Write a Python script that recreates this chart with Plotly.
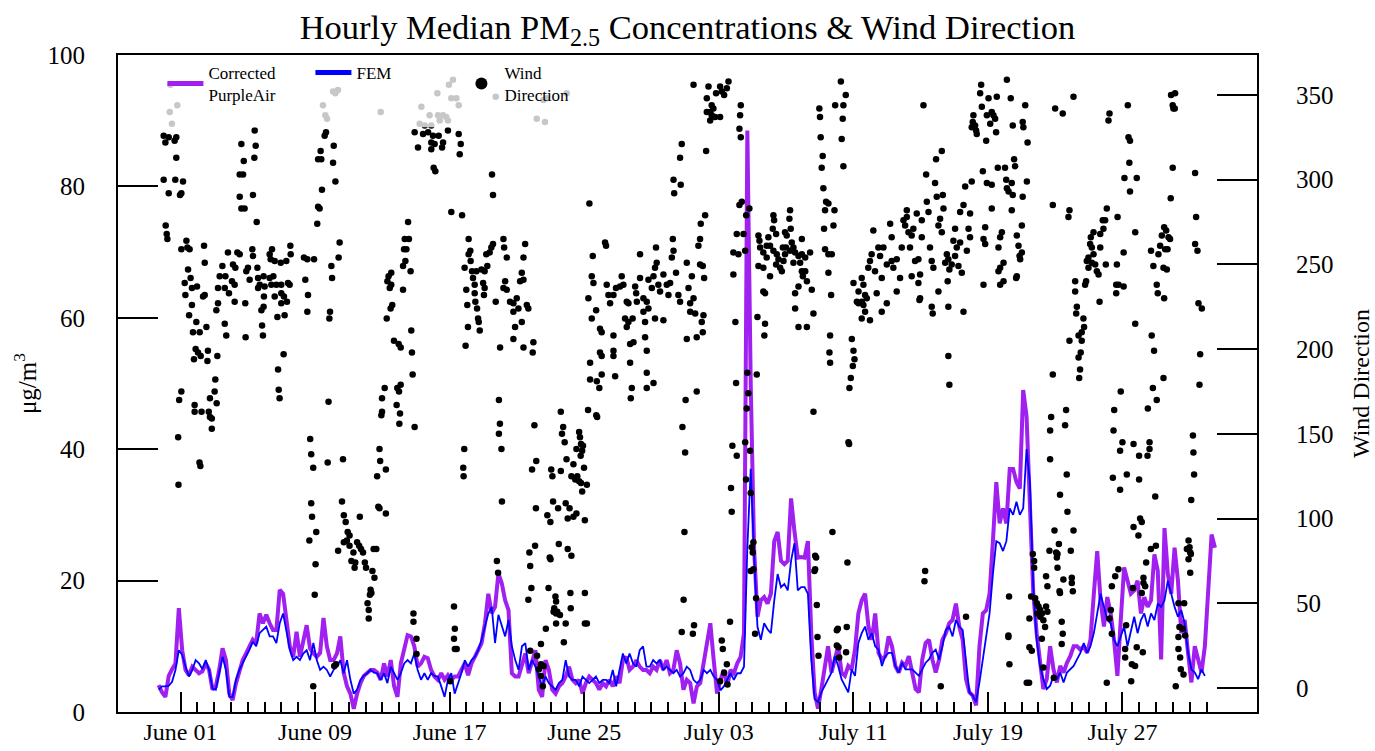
import pandas as pd
import plotly.graph_objects as go

# ---------------- data ----------------
BASE_DATE = "2020-06-01"          # day 0 of the day offsets below
LINE_START_DAY = -1.3             # first line sample (days from June 01)
LINE_STEP_HOURS = 4.8             # spacing of the line samples

pa_corrected = [
    4.1, 3.0, 2.3, 5.5, 6.5, 7.4, 15.8, 9.4, 6.4, 5.6,
    6.9, 6.4, 5.9, 6.2, 7.4, 6.4, 3.4, 3.9, 6.4, 9.7,
    7.9, 2.8, 1.8, 4.4, 6.4, 7.9, 8.9, 10.0, 11.0, 10.5,
    15.0, 13.5, 14.8, 13.5, 12.5, 12.5, 18.6, 18.0, 14.5, 10.0,
    8.4, 12.2, 8.4, 11.0, 13.2, 9.7, 8.9, 8.4, 9.0, 14.3,
    10.0, 7.9, 7.9, 8.9, 11.5, 6.0, 3.9, 2.8, 0.5, 2.8,
    4.4, 5.5, 5.9, 6.4, 6.4, 6.0, 4.9, 7.4, 5.4, 7.9,
    3.9, 2.3, 7.4, 9.5, 11.7, 11.5, 10.0, 6.9, 7.4, 8.4,
    8.2, 6.4, 5.4, 4.9, 5.9, 4.9, 5.6, 4.9, 5.4, 5.4,
    6.4, 7.4, 5.6, 7.4, 8.4, 9.4, 10.5, 13.5, 18.0, 15.0,
    16.0, 21.1, 19.6, 17.0, 15.5, 5.9, 5.4, 5.4, 7.4, 8.9,
    5.9, 7.9, 9.4, 3.4, 2.3, 7.9, 6.4, 3.4, 2.8, 3.9,
    4.4, 5.4, 6.9, 4.9, 4.4, 4.9, 2.8, 4.4, 5.4, 4.9,
    4.4, 3.4, 4.4, 3.9, 4.9, 3.9, 5.4, 4.4, 7.9, 8.4,
    6.4, 6.9, 7.9, 6.9, 6.4, 6.4, 5.9, 6.9, 6.4, 7.9,
    6.4, 7.9, 5.9, 6.4, 9.4, 7.4, 3.4, 4.9, 4.4, 1.3,
    3.9, 4.4, 7.4, 10.5, 13.5, 7.9, 2.8, 4.9, 6.4, 3.9,
    6.4, 5.9, 7.4, 8.4, 12.0, 88.5, 50.0, 25.0, 14.5, 17.0,
    17.5, 16.5, 18.0, 26.0, 27.4, 23.0, 22.5, 23.0, 32.5, 27.5,
    23.5, 23.6, 23.5, 26.0, 12.0, 3.0, 0.5, 3.5, 6.5, 10.0,
    6.0, 8.0, 10.0, 6.0, 5.5, 7.0, 6.5, 9.5, 15.0, 17.0,
    18.0, 13.0, 11.0, 15.0, 9.0, 8.0, 8.5, 11.5, 10.0, 7.0,
    6.0, 7.5, 7.0, 8.5, 6.0, 3.5, 3.0, 8.0, 10.5, 11.0,
    8.0, 6.0, 8.0, 11.0, 12.0, 13.5, 14.0, 16.5, 13.0, 11.0,
    5.0, 3.0, 2.5, 1.0, 10.0, 15.0, 15.5, 18.0, 26.0, 35.0,
    28.7, 31.0, 28.7, 37.0, 37.0, 35.0, 34.0, 49.0, 45.0, 30.0,
    18.0, 12.0, 7.0, 3.5, 5.0, 10.0, 6.5, 4.5, 7.0, 6.0,
    7.5, 8.5, 10.0, 10.0, 9.5, 10.0, 9.0, 11.0, 18.0, 24.5,
    17.0, 13.0, 17.5, 15.0, 11.0, 5.5, 14.0, 22.0, 20.0, 18.0,
    18.5, 20.0, 15.0, 17.5, 16.0, 17.0, 24.0, 21.5, 8.0, 28.0,
    21.0, 18.0, 25.0, 20.0, 12.0, 14.0, 9.0, 4.5, 10.0, 8.0,
    6.0, 10.0, 18.0, 27.0, 25.0,
]

fem = [
    3.4, 3.9, 3.9, 4.0, 4.6, 6.4, 9.4, 8.7, 6.9, 5.4,
    6.4, 7.9, 7.4, 6.5, 7.9, 6.4, 3.6, 3.4, 5.9, 8.4,
    6.4, 2.3, 2.3, 4.9, 6.4, 7.4, 8.4, 9.5, 10.7, 10.0,
    12.0, 12.5, 13.0, 11.5, 11.5, 10.5, 13.5, 15.0, 12.0, 9.5,
    7.9, 8.4, 7.9, 8.9, 9.4, 7.9, 10.5, 7.9, 6.4, 6.9,
    6.4, 5.4, 6.4, 6.9, 7.9, 5.9, 7.9, 4.9, 2.8, 3.4,
    4.9, 5.5, 5.9, 6.4, 6.0, 5.9, 4.9, 5.9, 4.4, 6.9,
    5.9, 4.9, 5.9, 7.4, 7.9, 7.4, 8.9, 6.4, 4.9, 5.9,
    4.9, 5.9, 5.5, 5.4, 3.9, 2.3, 4.9, 5.9, 2.8, 4.4,
    5.9, 7.9, 6.9, 7.9, 8.4, 9.4, 11.0, 13.0, 15.0, 16.0,
    10.5, 14.8, 13.0, 11.5, 14.0, 10.0, 7.9, 6.4, 10.0, 10.5,
    6.4, 7.9, 6.9, 5.4, 3.9, 5.4, 4.4, 3.9, 3.4, 4.4,
    4.9, 7.9, 5.4, 4.9, 4.9, 3.9, 5.4, 4.9, 4.4, 4.9,
    5.4, 4.4, 4.9, 4.9, 4.4, 6.4, 3.9, 6.4, 8.9, 7.4,
    8.9, 7.4, 6.9, 9.4, 10.0, 6.9, 6.9, 7.9, 7.4, 7.9,
    6.4, 6.9, 6.4, 5.9, 6.4, 5.4, 5.9, 6.9, 6.4, 4.9,
    4.4, 4.9, 6.4, 5.9, 6.4, 5.4, 4.9, 3.3, 3.9, 4.9,
    5.9, 4.9, 5.9, 5.9, 6.9, 25.0, 37.0, 24.0, 13.0, 11.0,
    13.5, 12.6, 12.0, 17.0, 21.0, 19.0, 19.5, 18.5, 23.0, 25.7,
    18.5, 19.0, 19.0, 18.0, 8.0, 2.0, 1.5, 3.0, 4.0, 5.0,
    6.0, 8.5, 7.0, 5.0, 4.0, 3.0, 6.5, 5.5, 10.5, 12.0,
    13.0, 11.0, 12.0, 10.0, 9.5, 7.0, 8.5, 9.0, 9.0, 7.0,
    6.0, 7.5, 6.5, 6.5, 6.5, 6.0, 5.5, 6.5, 7.5, 8.0,
    9.0, 9.5, 8.0, 10.0, 12.5, 13.0, 11.5, 14.0, 13.0, 12.5,
    7.5, 3.0, 2.5, 1.5, 4.5, 8.0, 11.0, 15.0, 21.0, 26.0,
    25.7, 24.5, 26.0, 31.0, 30.0, 32.0, 30.0, 31.0, 40.0, 35.0,
    19.0, 11.0, 7.0, 5.0, 3.5, 4.0, 5.5, 5.0, 6.0, 4.5,
    6.0, 6.5, 7.0, 8.0, 9.0, 10.5, 9.0, 10.0, 12.0, 15.0,
    18.0, 16.0, 14.0, 13.5, 11.0, 10.0, 11.5, 13.0, 10.0, 12.5,
    14.5, 12.0, 14.0, 15.0, 13.0, 15.0, 14.0, 16.5, 16.0, 17.0,
    20.0, 18.0, 16.0, 14.5, 15.5, 13.5, 9.0, 6.5, 6.0, 5.0,
    6.5, 5.5,
]

# wind direction observations: (days from June 01, degrees)
wind_early_june = [
    (-0.60, 356), (-0.64, 340), (-0.19, 344), (-0.51, 333),
    (-1.00, 326), (-0.70, 325), (-0.90, 322), (-0.25, 325), (-0.35, 323), (-0.25, 313),
    (-1.00, 300), (-0.31, 300), (0.15, 299), (-0.70, 292), (0.05, 292), (-0.03, 291),
    (-0.88, 273), (-0.82, 268), (-0.78, 265), (0.05, 259), (0.35, 264), (0.41, 260),
    (0.54, 259), (1.40, 261), (1.44, 251), (0.45, 247), (0.25, 239), (0.60, 242),
    (0.68, 236), (0.98, 237), (0.29, 232), (1.44, 232), (1.34, 231), (0.68, 226),
    (0.51, 220), (0.94, 216), (0.74, 210), (1.14, 210), (1.54, 213), (0.90, 200),
    (1.04, 198), (0.80, 194), (1.20, 196), (1.63, 199), (1.60, 193), (2.19, 196),
    (2.07, 182), (0.05, 175), (2.03, 175),
    (2.82, 257), (3.38, 257), (3.52, 256), (4.27, 259), (4.31, 255), (5.44, 259),
    (5.30, 256), (6.53, 261), (6.55, 256), (2.49, 249), (3.12, 250), (3.26, 248),
    (4.01, 248), (4.57, 248), (5.36, 253), (5.60, 252), (5.96, 251), (6.29, 252),
    (2.33, 243), (2.67, 243), (3.06, 240), (3.22, 238), (3.91, 246), (4.11, 241),
    (4.61, 242), (4.94, 243), (5.30, 242), (5.52, 243), (5.70, 238), (4.71, 238),
    (5.00, 237), (5.40, 238), (5.99, 238), (6.39, 239), (6.49, 238), (2.23, 236),
    (2.63, 236), (2.88, 233), (3.22, 228), (3.85, 227), (4.61, 236), (4.96, 231),
    (5.60, 231), (5.99, 233), (6.15, 231), (6.33, 228), (5.99, 227), (2.23, 227),
    (2.13, 223), (4.81, 223), (4.94, 225), (6.19, 220), (5.76, 219), (2.63, 215),
    (2.72, 208), (4.85, 214), (4.90, 208), (3.87, 207), (6.13, 197), (5.80, 188),
    (5.84, 176),
    (4.41, 329), (3.62, 321), (4.47, 320), (3.76, 311), (4.39, 313), (3.52, 303),
    (3.72, 303), (4.31, 291), (3.52, 290), (3.62, 283), (3.81, 283), (4.53, 275),
    (-0.08, 170), (0.84, 167), (0.84, 163), (1.25, 163), (1.68, 163), (1.75, 160),
    (1.86, 159), (1.86, 153), (1.75, 171), (2.15, 168), (-0.14, 148), (1.13, 133),
    (1.18, 131), (-0.12, 120), (5.89, 171),
]

wind_mid_june = [
    (7.34, 254), (7.54, 253), (7.94, 253), (7.42, 241), (7.58, 232), (7.54, 222),
    (8.97, 249), (9.40, 254), (9.46, 263), (9.01, 242), (8.89, 222), (8.85, 218),
    (8.47, 344), (8.61, 338), (8.71, 336), (9.07, 352), (9.36, 353), (9.21, 351),
    (8.65, 328), (8.57, 326), (9.11, 320), (8.33, 317), (8.18, 312), (8.37, 312),
    (9.07, 310), (9.21, 299), (8.41, 294), (8.18, 284), (8.27, 283), (8.13, 274),
    (8.80, 169), (7.71, 147), (7.77, 138), (7.89, 130), (7.77, 109), (7.82, 101),
    (8.07, 92), (7.66, 87), (8.03, 73), (7.98, 55), (8.75, 133), (9.66, 135),
    (9.60, 110), (9.71, 102), (9.82, 98), (10.66, 101), (9.94, 92), (10.05, 90),
    (9.89, 87), (9.71, 86), (10.05, 84), (10.50, 86), (10.62, 84), (10.73, 82),
    (10.28, 80), (10.85, 80), (10.16, 75), (10.39, 74), (10.35, 71), (10.96, 74),
    (11.03, 71), (11.41, 69), (11.53, 65), (11.48, 82), (11.64, 82), (9.37, 81),
    (11.30, 58), (11.35, 56), (11.26, 55), (11.12, 50), (11.19, 46), (11.19, 41),
    (9.25, 14), (9.14, 13), (7.89, 1),
    (11.98, 171), (11.98, 163), (11.94, 161), (12.85, 167), (13.05, 162), (13.01, 156),
    (13.92, 154), (11.83, 141), (11.87, 134), (12.21, 129), (11.69, 125), (11.76, 107),
    (11.83, 106), (12.21, 103), (13.85, 44), (13.85, 39), (14.03, 29), (14.03, 20),
    (13.53, 275), (13.33, 265), (13.58, 265), (13.29, 259), (13.43, 259), (13.37, 252),
    (13.23, 249), (13.68, 246), (12.53, 245), (12.37, 243), (12.30, 240), (12.53, 238),
    (12.44, 236), (13.23, 235), (12.59, 226), (12.49, 224), (12.26, 218), (13.72, 211),
    (12.69, 205), (12.97, 203), (13.09, 201), (13.76, 198), (13.80, 185), (12.14, 177),
    (12.89, 177), (13.09, 179), (12.99, 175), (11.90, 340),
    (14.32, 343), (14.81, 338), (15.31, 338), (15.61, 338), (15.80, 337), (14.22, 333),
    (14.52, 332), (14.91, 332), (15.41, 335), (15.90, 335), (16.10, 348), (16.40, 348),
    (16.54, 344), (15.27, 351), (15.96, 356), (16.20, 359), (18.74, 349),
    (13.92, 328), (14.42, 327), (14.72, 328), (15.01, 326), (15.35, 326), (15.90, 329),
    (16.54, 327), (16.66, 321), (16.60, 315), (14.91, 322), (15.11, 321), (15.61, 322),
    (14.12, 319), (14.91, 318), (15.55, 319), (15.05, 307), (15.15, 305), (16.10, 281),
    (16.74, 279), (18.52, 303), (18.58, 291),
    (17.13, 265), (17.23, 258), (17.13, 256), (17.25, 252), (16.89, 248), (17.33, 246),
    (17.59, 246), (17.89, 247), (18.08, 246), (18.24, 249), (18.48, 260), (18.58, 262),
    (18.38, 257), (18.18, 256), (17.39, 242), (17.49, 238), (17.99, 239), (18.08, 236),
    (17.49, 233), (16.99, 235), (17.53, 228), (18.04, 232), (18.74, 228), (17.05, 226),
    (17.63, 224), (17.69, 218), (17.73, 216), (17.79, 211), (17.09, 213), (16.95, 202),
    (16.04, 4), (16.26, 48), (16.31, 35), (16.26, 29), (16.31, 23), (16.42, 23),
    (16.87, 141), (16.81, 130), (16.83, 125), (18.93, 170), (18.99, 156), (18.93, 150),
    (19.08, 141), (19.11, 110), (18.81, 75), (18.88, 68),
]

wind_late_june = [
    (21.57, 347), (21.77, 348), (21.18, 336), (21.67, 334), (22.96, 351),
    (19.20, 265), (19.24, 260), (19.40, 254), (20.49, 262), (20.39, 254), (19.30, 240),
    (19.20, 236), (19.40, 235), (20.29, 245), (20.39, 241), (20.19, 240), (19.59, 228),
    (19.79, 227), (19.99, 230), (20.09, 224), (19.79, 222), (20.59, 226), (20.68, 224),
    (20.29, 216), (19.89, 213), (19.79, 206), (20.39, 201), (20.98, 204), (20.94, 198),
    (19.00, 201),
    (21.04, 155), (21.15, 134), (20.90, 129), (21.13, 106), (21.08, 84), (20.74, 80),
    (20.79, 72), (20.86, 59), (20.68, 52), (20.79, 22), (21.20, 19), (21.43, 14),
    (21.59, 13), (21.31, 11), (21.43, 7), (21.54, 1), (21.43, 26), (21.72, 35),
    (22.04, 129), (22.11, 125), (22.15, 110), (21.81, 102), (21.99, 98), (22.61, 163),
    (22.75, 154), (22.68, 150), (22.84, 145), (22.95, 135), (22.61, 128), (23.36, 132),
    (23.24, 125), (23.47, 123), (23.59, 125), (23.70, 122), (23.81, 121), (23.88, 116),
    (23.99, 130), (24.16, 120), (23.70, 151), (23.75, 148), (23.81, 144), (23.93, 143),
    (23.88, 140), (23.79, 137), (23.54, 141), (22.45, 106), (22.90, 109), (23.13, 106),
    (23.02, 100), (23.36, 101), (23.54, 103), (24.04, 99), (22.49, 85), (23.02, 82),
    (23.24, 78), (21.95, 77), (22.00, 76), (21.88, 59), (22.29, 54), (22.33, 51),
    (22.22, 47), (22.18, 45), (22.33, 44), (22.40, 45), (22.56, 43), (23.18, 56),
    (23.20, 47), (22.90, 38), (22.33, 38), (22.79, 27), (24.04, 56), (24.04, 38),
    (24.16, 38), (24.23, 164), (24.72, 161), (24.77, 160), (26.77, 171), (30.03, 170),
    (29.84, 154), (30.00, 139), (29.96, 92), (29.91, 52), (29.80, 33), (30.53, 37),
    (30.46, 32),
    (24.31, 286), (24.51, 255), (25.24, 263), (25.30, 261), (24.45, 243), (24.55, 239),
    (24.25, 230), (24.71, 223), (24.45, 218), (25.34, 238), (25.44, 232), (25.54, 227),
    (25.74, 232), (25.89, 236), (26.13, 237), (26.23, 243), (26.33, 238), (26.53, 228),
    (26.63, 227), (27.03, 237), (27.09, 233), (27.13, 228), (27.32, 242), (27.32, 256),
    (27.82, 241), (28.02, 236), (28.12, 243), (28.21, 248), (28.27, 260), (28.31, 251),
    (28.41, 238), (28.51, 234), (28.71, 244), (28.91, 238), (29.01, 232), (29.11, 239),
    (29.21, 254), (29.31, 258), (29.27, 265), (29.46, 245), (29.60, 232), (29.70, 228),
    (30.10, 251), (30.20, 236), (30.30, 227), (30.40, 243), (30.30, 222), (30.50, 230),
    (30.60, 221), (30.89, 250), (31.05, 249), (31.13, 242), (30.89, 265), (30.79, 261),
    (30.93, 274), (31.19, 279), (30.99, 216), (31.05, 210), (31.09, 220), (30.69, 207),
    (30.10, 206),
    (24.94, 212), (25.04, 210), (25.74, 208), (26.53, 213), (26.63, 216), (26.73, 203),
    (26.93, 204), (26.43, 218), (26.88, 218), (27.52, 230), (27.72, 228), (27.82, 224),
    (27.52, 222), (27.62, 216), (28.21, 218), (28.71, 217), (27.62, 207), (27.72, 199),
    (24.94, 198), (25.04, 196), (25.74, 199), (25.74, 196), (24.35, 192), (26.73, 192),
    (25.04, 185), (25.84, 184), (27.72, 186), (28.12, 180), (27.72, 177), (26.83, 177),
    (24.35, 182), (24.75, 181), (24.90, 177), (30.69, 175),
    (29.80, 321), (29.70, 313), (29.31, 300), (29.74, 297), (29.35, 292), (31.25, 317),
]

wind_early_july = [
    (30.50, 356), (31.39, 355), (32.08, 355), (32.18, 352), (32.58, 358), (32.48, 354),
    (31.84, 351), (32.32, 350), (31.29, 348), (31.58, 344), (31.68, 342), (31.49, 340),
    (31.29, 340), (31.58, 338), (31.78, 337), (32.08, 337), (31.49, 335), (33.31, 344),
    (33.27, 338), (33.23, 330), (33.31, 325),
    (33.23, 285), (33.37, 287), (33.63, 279), (33.82, 283), (33.07, 268), (33.47, 268),
    (32.87, 257), (33.17, 256), (33.57, 258), (32.87, 244), (32.99, 216), (33.03, 180),
    (33.70, 186), (33.76, 174), (34.26, 185),
    (33.66, 165), (33.57, 145), (33.86, 140), (32.81, 143), (33.07, 137), (32.73, 118),
    (32.77, 104), (33.62, 123), (33.90, 115), (34.06, 86), (33.96, 83), (34.02, 80),
    (33.90, 69), (34.06, 70), (34.22, 53), (34.16, 32), (32.67, 39), (32.18, 28),
    (32.24, 23), (32.48, 14), (32.32, 9), (32.52, 2), (32.08, 4),
    (34.36, 267), (34.42, 264), (34.95, 266), (34.85, 261), (35.25, 279), (35.29, 276),
    (35.21, 271), (35.41, 268), (35.94, 269), (36.20, 277), (36.24, 282), (36.28, 271),
    (36.04, 267), (36.34, 263), (36.94, 265), (34.46, 260), (34.65, 257), (35.05, 261),
    (35.25, 258), (35.45, 256), (35.55, 253), (35.81, 260), (35.94, 256), (36.00, 260),
    (36.24, 258), (36.44, 260), (36.54, 257), (36.74, 255), (36.94, 256), (37.14, 254),
    (37.43, 257), (34.36, 249), (34.65, 248), (34.85, 254), (35.05, 243), (35.41, 250),
    (35.65, 248), (35.75, 246), (35.85, 252), (36.44, 251), (36.84, 251), (36.94, 246),
    (37.14, 246), (37.00, 243), (37.24, 240), (36.74, 237), (36.54, 233), (37.53, 235),
    (36.54, 224), (37.63, 221), (34.65, 234), (34.75, 233), (34.30, 219), (34.75, 215),
    (34.71, 208), (36.74, 213), (37.24, 213),
    (37.63, 163), (39.71, 145), (39.75, 144), (38.76, 92), (39.65, 74), (37.73, 78),
    (37.79, 77), (37.73, 70), (37.69, 69), (37.83, 49), (37.87, 30), (37.93, 19),
    (39.02, 34), (39.08, 35), (39.61, 36), (39.12, 24), (39.02, 25), (39.57, 21),
    (39.16, 18),
    (37.98, 342), (38.02, 337), (38.06, 325), (38.18, 314), (38.12, 307), (38.22, 295),
    (38.92, 344), (39.26, 358), (39.41, 344), (39.55, 350), (39.37, 336), (39.31, 324),
    (39.41, 308), (38.38, 287), (38.52, 286), (38.32, 282), (38.88, 282), (38.26, 271),
    (38.82, 273), (38.32, 259), (38.52, 256), (38.72, 256), (38.52, 245), (38.68, 232),
    (38.62, 208), (38.58, 198), (38.62, 192),
    (39.91, 206), (40.01, 199), (40.07, 194), (39.97, 190), (39.85, 183), (39.77, 177),
    (40.01, 239), (40.31, 234), (40.21, 228), (40.31, 227),
]

wind_mid_july = [
    (40.50, 242), (40.60, 238), (40.70, 232), (40.50, 228), (40.60, 226), (40.70, 222),
    (40.50, 218), (40.99, 217), (40.80, 230), (41.39, 233), (41.69, 222), (41.99, 227),
    (42.58, 234), (41.09, 256), (41.19, 270), (41.49, 260), (41.59, 255), (41.79, 260),
    (40.89, 248), (40.99, 252), (41.29, 246), (41.69, 242), (41.99, 250), (42.28, 252),
    (42.38, 248), (42.58, 253), (42.78, 242), (42.88, 260), (43.37, 260), (43.47, 243),
    (43.67, 252), (43.87, 253), (43.97, 244), (43.87, 239), (43.97, 230), (42.19, 274),
    (42.28, 266), (42.98, 276), (43.08, 273), (43.18, 282), (43.18, 278), (43.28, 269),
    (43.47, 267), (43.57, 271), (43.77, 280), (44.07, 276), (44.07, 266), (44.37, 287),
    (44.47, 281), (44.56, 260), (44.66, 252), (44.76, 248), (45.06, 273), (45.16, 277),
    (45.26, 269), (45.36, 283), (44.96, 290), (45.32, 291), (45.56, 256), (45.46, 251),
    (45.65, 253), (45.85, 250), (45.71, 247), (46.05, 255), (46.15, 260), (46.35, 263),
    (46.25, 249), (46.45, 245), (46.05, 271), (45.95, 264), (46.35, 281), (46.55, 285),
    (46.75, 258), (46.85, 271), (46.94, 266), (46.94, 280), (47.04, 299), (46.65, 296),
    (47.74, 265), (47.84, 272), (47.84, 262), (47.94, 298), (48.23, 283), (48.23, 297),
    (48.63, 260), (48.73, 266), (48.83, 269), (48.93, 251), (48.73, 248), (48.63, 246),
    (49.09, 300), (49.13, 295), (49.23, 293), (49.42, 298), (49.42, 282), (49.48, 291),
    (49.72, 267), (49.82, 261), (49.88, 255), (49.92, 253), (50.02, 273), (49.72, 243),
    (50.07, 290), (50.32, 299), (50.02, 257), (47.74, 238), (48.73, 238), (48.93, 240),
    (49.68, 242), (45.61, 240), (45.06, 234), (43.93, 229), (44.66, 225), (44.72, 221),
    (45.65, 225), (46.55, 222), (44.92, 312), (45.26, 317), (44.33, 303), (44.86, 298),
    (47.70, 305), (48.59, 307), (49.02, 307), (49.56, 312), (49.62, 308), (44.17, 344),
    (47.60, 356), (47.54, 351), (48.04, 348), (48.53, 349), (49.13, 359), (49.36, 348),
    (50.22, 344), (47.64, 343), (47.94, 338), (48.23, 340), (48.33, 338), (48.43, 336),
    (47.14, 338), (47.10, 334), (47.24, 332), (47.30, 329), (47.34, 327), (47.04, 331),
    (48.14, 333), (48.49, 328), (47.90, 323), (49.48, 332), (50.07, 334), (50.11, 331),
    (50.36, 322), (45.65, 196), (45.71, 179),
    (44.27, 69), (44.23, 63), (46.70, 42), (45.20, 1),
    (49.26, 54), (49.22, 31), (49.22, 30), (49.28, 14), (50.31, 3), (50.45, 3),
    (50.47, 41), (50.47, 24), (50.61, 22), (50.57, 54), (50.67, 79), (50.75, 75),
    (50.75, 71), (50.81, 53), (50.91, 50), (51.01, 48), (51.11, 46), (51.21, 44),
    (50.95, 44), (51.11, 42), (51.30, 40), (51.40, 36), (51.46, 48), (51.54, 45),
    (51.46, 66), (51.54, 60), (51.21, 29), (51.30, 12), (51.66, 81), (51.70, 152),
    (51.76, 160), (51.70, 135), (51.92, 6), (51.96, 93), (52.06, 80), (52.14, 79),
    (52.10, 77), (52.14, 71), (52.22, 85), (52.26, 57), (52.29, 56), (52.29, 114),
    (52.49, 64), (52.39, 39), (52.39, 26), (52.45, 32), (52.59, 155), (52.65, 164),
    (52.69, 126), (52.73, 104), (52.93, 81), (52.99, 65), (52.99, 62), (53.05, 57),
    (53.09, 93),
]

wind_late_july = [
    (52.00, 342), (52.45, 339), (53.09, 349), (51.86, 285), (52.85, 282), (52.79, 278),
    (55.07, 283), (54.83, 276), (54.97, 276), (54.87, 271), (54.68, 268), (54.28, 269),
    (54.12, 266), (54.08, 262), (54.18, 260), (54.68, 260), (54.28, 256), (53.98, 254),
    (53.88, 252), (54.18, 251), (54.38, 250), (54.48, 246), (54.58, 244), (53.98, 248),
    (53.84, 240), (53.78, 238), (53.19, 240), (53.19, 234), (54.64, 228), (55.01, 250),
    (55.67, 250), (55.71, 278), (56.07, 257), (56.76, 269), (55.63, 238), (55.77, 238),
    (56.07, 237), (55.63, 233), (53.29, 225), (53.25, 221), (53.68, 218), (53.72, 213),
    (53.58, 210), (53.39, 208), (53.58, 205), (52.85, 205), (53.52, 198), (53.39, 195),
    (53.48, 188), (53.43, 183), (51.86, 185), (55.90, 175), (56.76, 215),
    (55.23, 339), (55.17, 335), (56.32, 344), (56.36, 325), (56.45, 323), (56.41, 310),
    (56.12, 301), (56.85, 301), (56.45, 293),
    (58.89, 350), (59.13, 351), (58.99, 344), (59.03, 342), (59.11, 342), (58.99, 307),
    (58.87, 289), (60.32, 304), (60.38, 278), (58.48, 272), (58.60, 270), (58.34, 267),
    (58.74, 266), (58.24, 261), (58.54, 259), (58.68, 259), (58.83, 265), (57.70, 258),
    (58.14, 256), (57.84, 249), (58.44, 248), (58.64, 247), (58.04, 238), (58.10, 233),
    (58.48, 230), (60.32, 262), (60.46, 258), (60.52, 227), (60.72, 224), (57.74, 208),
    (57.88, 199), (60.62, 197), (58.44, 183), (57.81, 177), (60.58, 179),
    (55.07, 3), (55.23, 41), (55.31, 46), (55.37, 60), (55.37, 32), (55.43, 124),
    (55.47, 152), (55.51, 164), (55.57, 66), (55.76, 70), (55.86, 117), (56.00, 145),
    (55.86, 140), (56.16, 23), (56.16, 18), (56.22, 37), (56.26, 126), (56.52, 4),
    (56.56, 14), (56.62, 59), (56.66, 95), (56.66, 144), (56.75, 13), (56.85, 24),
    (56.95, 90), (56.99, 137), (56.99, 123), (57.05, 100), (57.15, 98), (57.15, 56),
    (57.21, 21), (57.25, 62), (57.25, 65), (57.35, 60), (57.41, 74), (57.49, 137),
    (57.51, 165), (57.61, 145), (57.61, 141), (57.69, 82), (57.95, 113), (57.99, 84),
    (58.04, 170),
    (59.17, 1), (59.33, 50), (59.33, 30), (59.33, 23), (59.39, 36), (59.43, 18),
    (59.47, 11), (59.57, 35), (59.63, 8), (59.67, 50), (59.73, 31), (59.83, 82),
    (59.93, 87), (59.99, 83), (60.03, 80), (59.93, 76), (60.07, 79), (60.03, 68),
    (60.09, 111), (60.19, 149), (60.22, 139), (60.26, 126),
]

x_tick_labels = ["June 01", "June 09", "June 17", "June 25",
                 "July 03", "July 11", "July 19", "July 27"]
pm_ticks = [0, 20, 40, 60, 80, 100]
wind_ticks = [0, 50, 100, 150, 200, 250, 300, 350]

# ---------------- build ----------------
base = pd.Timestamp(BASE_DATE)
line_times = (base + pd.to_timedelta(LINE_START_DAY, unit="D")
              + pd.to_timedelta([i * LINE_STEP_HOURS for i in range(len(pa_corrected))], unit="h"))

wind_all = (wind_early_june + wind_mid_june + wind_late_june
            + wind_early_july + wind_mid_july + wind_late_july)
wind_times = [base + pd.to_timedelta(d, unit="D") for d, _ in wind_all]
wind_deg = [w for _, w in wind_all]

label_dates = [base + pd.Timedelta(days=8 * i) for i in range(len(x_tick_labels))]
major_vals = [base + pd.Timedelta(days=2 * i) for i in range(31)]
major_text = []
for v in major_vals:
    major_text.append(x_tick_labels[label_dates.index(v)] if v in label_dates else "")
minor_vals = [base + pd.Timedelta(days=i) for i in range(62)]

x_range = [base - pd.Timedelta(days=3.716), base + pd.Timedelta(days=64.0)]

FONT = "Liberation Serif, Times New Roman, serif"

fig = go.Figure()
fig.add_trace(go.Scatter(x=line_times, y=pa_corrected, mode="lines",
                         name="Corrected<br>PurpleAir",
                         line=dict(color="#A020F0", width=4)))
fig.add_trace(go.Scatter(x=line_times[:len(fem)], y=fem, mode="lines", name="FEM",
                         line=dict(color="#0000FF", width=1.8)))
fig.add_trace(go.Scatter(x=wind_times, y=wind_deg, mode="markers",
                         name="Wind<br>Direction", yaxis="y2",
                         marker=dict(color="black", size=6.5)))

axis_common = dict(showline=True, linecolor="black", linewidth=2, showgrid=False,
                   zeroline=False, ticks="inside", tickcolor="black", tickwidth=2,
                   automargin=False)

fig.update_layout(
    width=1375, height=751,
    margin=dict(l=118, r=118, t=55, b=39, autoexpand=False),
    paper_bgcolor="white", plot_bgcolor="white",
    font=dict(family=FONT, color="black", size=25),
    title=dict(text="Hourly Median PM<sub>2.5</sub> Concentrations & Wind Direction",
               x=0.5, xref="paper", xanchor="center",
               y=1 - 27 / 751, yref="container", yanchor="middle",
               font=dict(size=34.5, family=FONT, color="black")),
    xaxis=dict(type="date", range=x_range, mirror=True, ticklen=20,
               tickmode="array", tickvals=major_vals, ticktext=major_text,
               tickangle=0, ticklabelstandoff=-3, tickfont=dict(size=24),
               minor=dict(ticks="inside", ticklen=10, tickwidth=2, tickcolor="black",
                          tickmode="array", tickvals=minor_vals, showgrid=False),
               **axis_common),
    yaxis=dict(range=[0, 100], tickmode="array", tickvals=pm_ticks, ticklen=40,
               ticklabelstandoff=26,
               title=dict(text="μg/m<sup>3</sup>", standoff=4, font=dict(size=25)),
               **axis_common),
    yaxis2=dict(overlaying="y", side="right", range=[-14.2, 373.6],
                tickmode="array", tickvals=wind_ticks, ticklen=40,
                ticklabelstandoff=32,
                title=dict(text="Wind Direction", standoff=20, font=dict(size=24)),
                **axis_common),
    legend=dict(orientation="h", x=0.039, y=1.0, xanchor="left", yanchor="top",
                bgcolor="rgba(0,0,0,0)", font=dict(size=17, family=FONT),
                entrywidth=97, entrywidthmode="pixels", itemsizing="constant",
                itemwidth=36, tracegroupgap=0),
    shapes=[dict(type="rect", xref="paper", yref="paper",
                 x0=0.028, x1=0.406, y0=0.890, y1=0.992,
                 fillcolor="white", opacity=0.78, line=dict(width=0), layer="above")],
)

fig.write_html("out.html")
